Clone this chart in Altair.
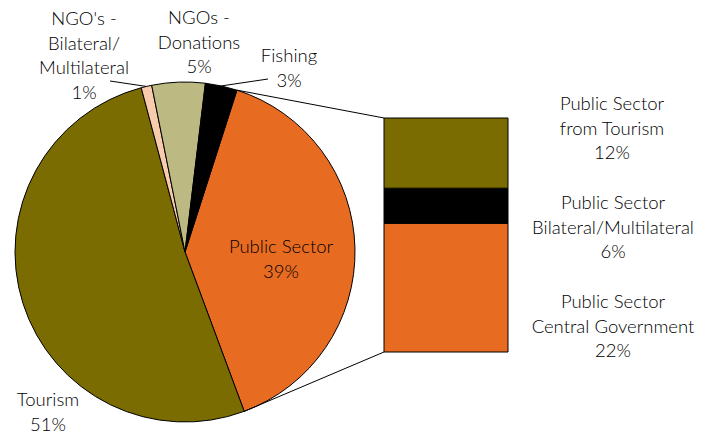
import math
import altair as alt
import pandas as pd

# ---- data ----
pie_categories = ["Public Sector", "Tourism", "NGO's - Bilateral/Multilateral",
                  "NGOs - Donations", "Fishing"]
pie_values = [39, 51, 1, 5, 3]
pie_colors = ["#E86B22", "#7A6C00", "#F8CBAD", "#BDB983", "#000000"]

bar_categories = ["Public Sector Central Government",
                  "Public Sector Bilateral/Multilateral",
                  "Public Sector from Tourism"]
bar_values = [22, 6, 12]
bar_colors = ["#E86B22", "#000000", "#7A6C00"]

pie_labels = ["Public Sector\n39%", "Tourism\n51%",
              "NGO's -\nBilateral/\nMultilateral\n1%",
              "NGOs -\nDonations\n5%", "Fishing\n3%"]
bar_labels = ["Public Sector\nCentral Government\n22%",
              "Public Sector\nBilateral/Multilateral\n6%",
              "Public Sector\nfrom Tourism\n12%"]

# ---- layout ----
W, H = 718, 434
CX, CY, R = 185, 252, 170
START = math.radians(17.8)          # angle of the first slice edge (clockwise from 12 o'clock)
BAR_X0, BAR_X1, BAR_Y_BOTTOM, BAR_Y_TOP = 384, 508, 352, 118
FONT = "Lato"
FS = 18.5
LH = 24.5
TXT = "#000000"

color_scale = alt.Scale(domain=pie_categories + bar_categories,
                        range=pie_colors + bar_colors)

pie_df = pd.DataFrame({"cat": pie_categories, "value": pie_values,
                       "ord": list(range(len(pie_values)))})
bar_df = pd.DataFrame({"cat": bar_categories, "value": bar_values,
                       "ord": list(range(len(bar_values)))})

pie = alt.Chart(pie_df).mark_arc(radius=R, stroke="black", strokeWidth=1).encode(
    theta=alt.Theta("value:Q", stack=True,
                    scale=alt.Scale(range=[START, START + 2 * math.pi])),
    order=alt.Order("ord:Q"),
    color=alt.Color("cat:N", scale=color_scale, legend=None),
    x=alt.value(CX), y=alt.value(CY),
)

bar = alt.Chart(bar_df).transform_stack(
    stack="value", groupby=[], as_=["lo", "hi"],
    sort=[alt.SortField("ord", order="ascending")],
).mark_rect(stroke="black", strokeWidth=1).encode(
    x=alt.value(BAR_X0), x2=alt.value(BAR_X1),
    y=alt.Y("lo:Q", axis=None,
            scale=alt.Scale(domain=[0, sum(bar_values)],
                            range=[BAR_Y_BOTTOM, BAR_Y_TOP])),
    y2="hi:Q",
    color=alt.Color("cat:N", scale=color_scale, legend=None),
)

# connector lines from the Public Sector slice edges to the bar corners
total = sum(pie_values)
a0 = START
a1 = START + 2 * math.pi * pie_values[0] / total


def pt(a):
    return CX + R * math.sin(a), CY - R * math.cos(a)


def rule(x1, y1, x2, y2):
    return alt.Chart(alt.Data(values=[{}])).mark_rule(
        color="black", strokeWidth=1).encode(
        x=alt.value(x1), y=alt.value(y1), x2=alt.value(x2), y2=alt.value(y2))


p0 = pt(a0)
p1 = pt(a1)
layers = [pie, bar,
          rule(p0[0], p0[1], BAR_X0, BAR_Y_TOP),
          rule(p1[0], p1[1], BAR_X0, BAR_Y_BOTTOM)]

# leader lines for the small slices
a_ngo = START + 2 * math.pi * (pie_values[0] + pie_values[1] + pie_values[2] / 2) / total
a_fish = START - 2 * math.pi * (pie_values[4] / 2) / total
q = pt(a_ngo)
layers.append(rule(110, 81, q[0], q[1]))
q = pt(a_fish)
layers.append(rule(268, 79, q[0], q[1]))

label_pos = {
    "Public Sector\n39%": (281, 253),
    "Tourism\n51%": (48, 406),
    "NGO's -\nBilateral/\nMultilateral\n1%": (84, 25),
    "NGOs -\nDonations\n5%": (199, 24),
    "Fishing\n3%": (289, 62),
    "Public Sector\nCentral Government\n22%": (613, 308),
    "Public Sector\nBilateral/Multilateral\n6%": (613, 209),
    "Public Sector\nfrom Tourism\n12%": (612, 110),
}

for lab in pie_labels + bar_labels:
    x, y = label_pos[lab]
    layers.append(
        alt.Chart(alt.Data(values=[{"t": lab}])).mark_text(
            font=FONT, fontSize=FS, fontWeight=300, color=TXT, align="center",
            baseline="alphabetic", lineBreak="\n", lineHeight=LH,
        ).encode(text="t:N", x=alt.value(x), y=alt.value(y))
    )

chart = alt.layer(*layers).properties(
    width=W, height=H, padding=0,
    autosize=alt.AutoSizeParams(type="none"),
    background="white",
).configure_view(stroke=None)

chart.save("out.html", embed_options={"renderer": "svg", "actions": False})
